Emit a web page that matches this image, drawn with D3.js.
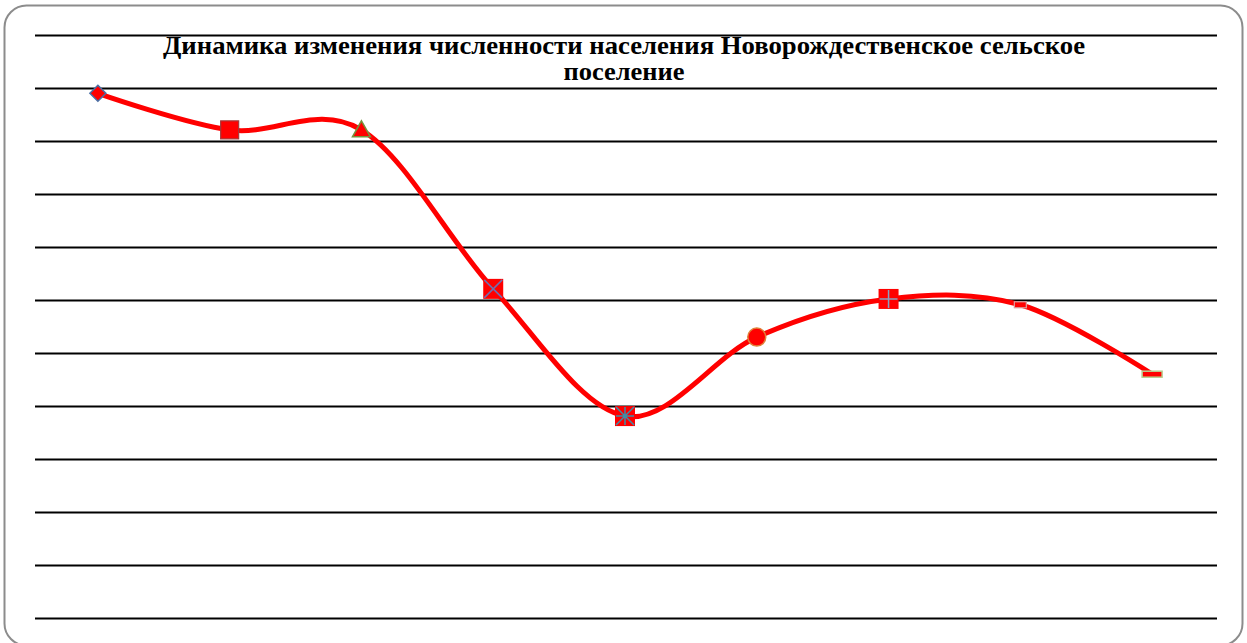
<!DOCTYPE html>
<html>
<head>
<meta charset="utf-8">
<script src="https://cdn.jsdelivr.net/npm/d3@7"></script>
<style>
  body { margin: 0; background: #fff; }
  svg { display: block; }
</style>
</head>
<body>
<svg id="chart"></svg>
<script>
// chart data
const titleLines = ['Динамика изменения численности населения Новорождественское сельское', 'поселение']
const categories = ['1', '2', '3', '4', '5', '6', '7', '8', '9']
const population = [9.9, 9.21, 9.21, 6.21, 3.81, 5.30, 6.02, 5.91, 4.60]
const gridTicks = [0, 1, 2, 3, 4, 5, 6, 7, 8, 9, 10, 11]

// marker for each point, as in the source workbook
const markerTypes = ['diamond', 'square', 'triangle', 'squareX', 'squareStar', 'circle', 'squarePlus', 'dashSmall', 'dash']

let W = 1247, H = 643
let m = {top: 35, left: 32, right: 29, bottom: 25}

let svg = d3.select('#chart').attr('width', W).attr('height', H)

// outer frame
svg.append('rect')
    .attr('x', 4.5).attr('y', 5.5)
    .attr('width', 1238).attr('height', 640)
    .attr('rx', 22).attr('ry', 22)
    .attr('fill', 'none')
    .attr('stroke', '#8c8c8c')
    .attr('stroke-width', 2)

let xScale = d3.scalePoint().domain(categories)
    .range([m.left, W - m.right])
    .padding(0.5)
let yScale = d3.scaleLinear().domain([0, 11]).range([H - m.bottom, m.top])

// horizontal gridlines
svg.append('g')
    .attr('transform', 'translate(1217,0)')
    .call(d3.axisRight(yScale).tickValues(gridTicks).tickSize(-(1217 - 35)).tickFormat(''))
    .call(g => g.select('.domain').remove())
    .call(g => g.selectAll('.tick line').attr('stroke', '#000').attr('stroke-width', 2))

// title
svg.selectAll('.title')
    .data(titleLines)
    .enter().append('text')
    .attr('class', 'title')
    .attr('x', 624)
    .attr('y', (d, i) => 54 + i * 26)
    .attr('text-anchor', 'middle')
    .attr('textLength', (d, i) => i == 0 ? 922 : 121)
    .attr('lengthAdjust', 'spacingAndGlyphs')
    .style('font-family', '"Liberation Serif", "Times New Roman", serif')
    .style('font-weight', 'bold')
    .style('font-size', '25px')
    .text(d => d)

// smoothed line
let line = d3.line()
    .x((d, i) => xScale(categories[i]))
    .y(d => yScale(d))
    .curve(d3.curveCardinal.tension(0))

svg.append('path')
    .datum(population)
    .attr('d', line)
    .attr('fill', 'none')
    .attr('stroke', '#ff0000')
    .attr('stroke-width', 5)
    .attr('stroke-linejoin', 'round')

// markers
let pts = svg.selectAll('.pt')
    .data(population)
    .enter().append('g')
    .attr('class', 'pt')
    .attr('transform', (d, i) => `translate(${xScale(categories[i])},${yScale(d)})`)

pts.each(function(d, i) {
    let g = d3.select(this)
    let t = markerTypes[i]
    if (t == 'diamond') {
        g.append('path').attr('d', 'M0,-8L8,0L0,8L-8,0Z')
            .attr('fill', '#ff0000').attr('stroke', '#4a6fa5').attr('stroke-width', 1.5)
    } else if (t == 'square') {
        g.append('rect').attr('x', -9).attr('y', -9).attr('width', 18).attr('height', 18)
            .attr('fill', '#ff0000').attr('stroke', '#a33a3a').attr('stroke-width', 1.2)
    } else if (t == 'triangle') {
        g.append('path').attr('d', 'M0,-9L9,7L-9,7Z')
            .attr('fill', '#ff0000').attr('stroke', '#76923c').attr('stroke-width', 1.5)
    } else if (t == 'circle') {
        g.append('circle').attr('r', 9)
            .attr('fill', '#ff0000').attr('stroke', '#e0803a').attr('stroke-width', 1.5)
    } else if (t == 'dashSmall') {
        g.append('rect').attr('x', -6).attr('y', -3).attr('width', 12).attr('height', 6)
            .attr('fill', '#ff0000').attr('stroke', '#d9a0a0').attr('stroke-width', 1.2)
    } else if (t == 'dash') {
        g.append('rect').attr('x', -10).attr('y', -3).attr('width', 20).attr('height', 6)
            .attr('fill', '#ff0000').attr('stroke', '#b7cf8f').attr('stroke-width', 1.5)
    } else {
        // squares with a cross drawn on top
        g.append('rect').attr('x', -10).attr('y', -10).attr('width', 20).attr('height', 20)
            .attr('fill', '#ff0000')
        let c = t == 'squareStar' ? '#3d8fa8' : (t == 'squarePlus' ? '#8aa0c0' : '#6f6fb0')
        let s = []
        if (t == 'squareX' || t == 'squareStar') s.push('M-9,-9L9,9M9,-9L-9,9')
        if (t == 'squarePlus' || t == 'squareStar') s.push('M0,-9V9M-9,0H9')
        g.append('path').attr('d', s.join(''))
            .attr('stroke', c).attr('stroke-width', 1.5).attr('fill', 'none')
    }
})
</script>
</body>
</html>
